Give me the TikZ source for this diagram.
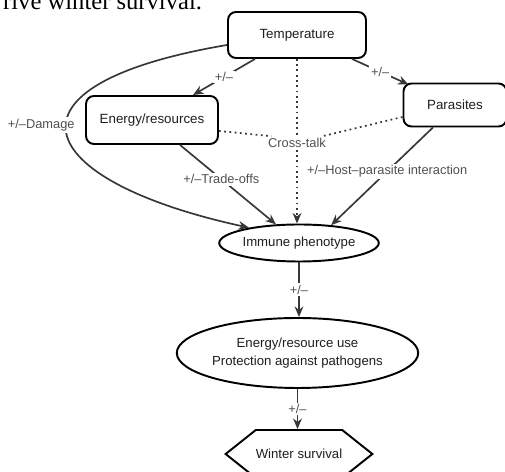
\documentclass[tikz,border=0pt]{standalone}
\usepackage{fontspec}
\setmainfont{Liberation Sans}
\newfontfamily\capfont{Liberation Serif}
\usetikzlibrary{positioning,arrows.meta,calc,shapes.geometric,shapes.symbols}
\definecolor{linegrey}{RGB}{55,55,55}
\definecolor{labgrey}{RGB}{80,80,80}
\definecolor{txtgrey}{RGB}{30,30,30}
\tikzset{
  rbox/.style={draw=black,line width=1.1pt,rounded corners=0.16cm,font=\fontsize{7.6}{9}\selectfont,text=txtgrey},
  obox/.style={ellipse,draw=black,line width=1.1pt,inner sep=0pt,font=\fontsize{7.5}{10.2}\selectfont,text=txtgrey,align=center},
  hbox/.style={signal,signal to=east and west,signal pointer angle=77,draw=black,line width=1.1pt,inner sep=0pt,font=\fontsize{7.5}{9}\selectfont,text=txtgrey},
  link/.style={draw=linegrey,line width=0.95pt,-{Stealth[length=6pt,width=5pt]}},
  xtalk/.style={draw=linegrey,line width=1pt,dotted},
  lab/.style={font=\fontsize{7.3}{9}\selectfont,text=labgrey,fill=white,inner sep=1pt}
}
\begin{document}
\begin{tikzpicture}[x=0.02cm,y=-0.02cm]
  \useasboundingbox (0,0) rectangle (505,472);
  \node[anchor=base west,font=\capfont\fontsize{14}{16}\selectfont] (cap) at (-3,10) {rive winter survival.};
  \node[rbox,minimum width=2.76cm,minimum height=0.92cm] (temp) at (297,35) {Temperature};
  \node[rbox,minimum width=2.64cm,minimum height=0.96cm] (energy) at (152,120) {Energy/resources};
  \node[rbox,minimum width=2.06cm,minimum height=0.86cm] (para) at (455,105) {Parasites};
  \node[lab] (ct) at (297,143) {Cross-talk};
  \node[obox,minimum width=3.04cm,minimum height=0.74cm] (imm) at (299,243) {Immune phenotype};
  \node[obox,minimum width=4.7cm,minimum height=1.4cm] (use) at (297.5,353) {Energy/resource use\\Protection against pathogens};
  \node[hbox,minimum width=2.64cm,minimum height=0.96cm] (ws) at (299,454) {Winter survival};
  % from temperature
  \draw[link] ($(temp.south)+(-42,0)$) -- node[lab] {+/--} ($(energy.north)+(41,0)$);
  \draw[link] ($(temp.south)+(55,0)$) -- node[lab] {+/--} ($(para.north west)+(6,2)$);
  \draw[link] ($(temp.west)+(0,10)$) .. controls (-10,85) and (30,180) .. node[lab,pos=0.46,xshift=-0.5cm] {+/--Damage} (imm.163);
  \draw[xtalk] (temp.south) -- (temp.south |- ct.north);
  \draw[xtalk,-{Stealth[length=6pt,width=5pt]}] (temp.south |- ct.south) -- (temp.south |- imm.north);
  % cross-talk
  \draw[xtalk] ($(energy.east)+(0,11)$) -- (ct.165);
  \draw[xtalk] ($(para.west)+(0,12)$) -- (ct.15);
  % into the immune phenotype
  \draw[link] ($(energy.south)+(28,0)$) -- node[lab,pos=0.43] {+/--Trade-offs} (imm.141);
  \draw[link] ($(para.south)+(-22,0)$) -- node[lab,pos=0.45] {+/--Host--parasite interaction} (imm.29);
  \draw[link] (imm.south) -- node[lab] {+/--} (imm.south |- use.north);
  \draw[link] (use.south) -- node[lab] {+/--} (use.south |- ws.north);
\end{tikzpicture}
\end{document}
